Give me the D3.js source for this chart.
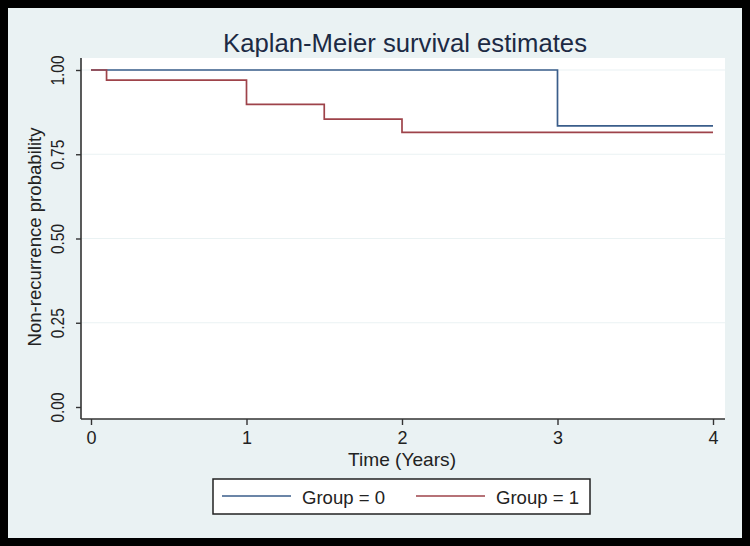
<!DOCTYPE html>
<html>
<head>
<meta charset="utf-8">
<script src="https://cdn.jsdelivr.net/npm/d3@7"></script>
<style>
  body { margin: 0; background: #000; }
  text { font-family: "Liberation Sans", Arial, sans-serif; }
</style>
</head>
<body>
<div id="chart"></div>
<script>
//Data
var group0Times = [0, 3, 4];
var group0Surv = [1, 0.834, 0.834];
var group1Times = [0, 0.1, 1, 1.5, 2, 4];
var group1Surv = [1, 0.970, 0.898, 0.854, 0.815, 0.815];
var xTicks = [0, 1, 2, 3, 4];
var yTicks = [0, 0.25, 0.5, 0.75, 1];
var legendLabels = ["Group = 0", "Group = 1"];
var colors = ["#3a5d8a", "#9e434a"];

var svgWidth = 750;
var svgHeight = 546;

var svg = d3.select("#chart")
  .append("svg")
  .attr("width", svgWidth)
  .attr("height", svgHeight);

//Black frame and light graph region
svg.append("rect")
  .attr("width", svgWidth)
  .attr("height", svgHeight)
  .attr("fill", "#000");

svg.append("rect")
  .attr("x", 8)
  .attr("y", 8)
  .attr("width", 734)
  .attr("height", 530)
  .attr("fill", "#eaf2f3");

//Plot region
var plot = { left: 81, right: 725, top: 58, bottom: 419 };

svg.append("rect")
  .attr("x", plot.left)
  .attr("y", plot.top)
  .attr("width", plot.right - plot.left)
  .attr("height", plot.bottom - plot.top)
  .attr("fill", "#fff");

var xScale = d3.scaleLinear().domain([0, 4]).range([91, 713]);
var yScale = d3.scaleLinear().domain([0, 1]).range([407, 70]);

//Grid lines
svg.append("g")
  .selectAll("line")
  .data(yTicks.filter(d => d > 0))
  .enter()
  .append("line")
  .attr("x1", plot.left)
  .attr("x2", plot.right)
  .attr("y1", d => yScale(d))
  .attr("y2", d => yScale(d))
  .attr("stroke", "#eaf2f3")
  .attr("stroke-width", 1.2);

//Axes
var leftAxis = d3.axisLeft(yScale)
  .tickValues(yTicks)
  .tickFormat(d3.format(".2f"))
  .tickSize(5)
  .tickSizeOuter(0);

var yAxis = svg.append("g")
  .attr("transform", `translate(${plot.left}, 0)`)
  .call(leftAxis);

yAxis.select(".domain").remove();
yAxis.append("line")
  .attr("x1", 0).attr("x2", 0)
  .attr("y1", plot.top).attr("y2", plot.bottom)
  .attr("stroke", "#333").attr("stroke-width", 1.6);

yAxis.selectAll(".tick line").attr("stroke", "#333").attr("stroke-width", 1.4);
yAxis.selectAll(".tick text")
  .attr("fill", "#222")
  .attr("font-size", "18px")
  .attr("text-anchor", "middle")
  .attr("x", 0)
  .attr("dy", 0)
  .attr("y", 0)
  .attr("textLength", 30)
  .attr("lengthAdjust", "spacingAndGlyphs")
  .attr("transform", "translate(-17, 0) rotate(-90)");

var bottomAxis = d3.axisBottom(xScale)
  .tickValues(xTicks)
  .tickFormat(d3.format("d"))
  .tickSize(6)
  .tickSizeOuter(0);

var xAxis = svg.append("g")
  .attr("transform", `translate(0, ${plot.bottom})`)
  .call(bottomAxis);

xAxis.select(".domain").remove();
xAxis.append("line")
  .attr("x1", plot.left).attr("x2", plot.right)
  .attr("y1", 0).attr("y2", 0)
  .attr("stroke", "#333").attr("stroke-width", 1.6);

xAxis.selectAll(".tick line").attr("stroke", "#333").attr("stroke-width", 1.4);
xAxis.selectAll(".tick text")
  .attr("fill", "#222")
  .attr("font-size", "18px")
  .attr("y", 12);

//Survival curves
var line = d3.line()
  .x(d => xScale(d[0]))
  .y(d => yScale(d[1]))
  .curve(d3.curveStepAfter);

var series = [
  d3.zip(group0Times, group0Surv),
  d3.zip(group1Times, group1Surv)
];

svg.append("g")
  .selectAll("path")
  .data(series)
  .enter()
  .append("path")
  .attr("d", line)
  .attr("fill", "none")
  .attr("stroke", (d, i) => colors[i])
  .attr("stroke-width", 1.7);

//Titles
svg.append("text")
  .attr("x", 405)
  .attr("y", 52)
  .attr("text-anchor", "middle")
  .attr("font-size", "25px")
  .attr("fill", "#1c2a44")
  .attr("textLength", 364)
  .attr("lengthAdjust", "spacingAndGlyphs")
  .text("Kaplan-Meier survival estimates");

svg.append("text")
  .attr("transform", "translate(41, 237) rotate(-90)")
  .attr("text-anchor", "middle")
  .attr("font-size", "18px")
  .attr("fill", "#222")
  .attr("textLength", 219)
  .attr("lengthAdjust", "spacingAndGlyphs")
  .text("Non-recurrence probability");

svg.append("text")
  .attr("x", 402)
  .attr("y", 466)
  .attr("text-anchor", "middle")
  .attr("font-size", "19px")
  .attr("fill", "#222")
  .attr("textLength", 108)
  .attr("lengthAdjust", "spacingAndGlyphs")
  .text("Time (Years)");

//Legend
var legend = svg.append("g");

legend.append("rect")
  .attr("x", 213)
  .attr("y", 479)
  .attr("width", 377)
  .attr("height", 35)
  .attr("fill", "#fff")
  .attr("stroke", "#222")
  .attr("stroke-width", 1.5);

var legendItems = legend.selectAll(".item")
  .data(legendLabels)
  .enter()
  .append("g")
  .attr("class", "item")
  .attr("transform", (d, i) => `translate(${222 + i * 194}, 0)`);

legendItems.append("line")
  .attr("x1", 0)
  .attr("x2", 69)
  .attr("y1", 496)
  .attr("y2", 496)
  .attr("stroke", (d, i) => colors[i])
  .attr("stroke-width", 1.5);

legendItems.append("text")
  .attr("x", 80)
  .attr("y", 504)
  .attr("font-size", "19px")
  .attr("fill", "#222")
  .attr("textLength", 83)
  .attr("lengthAdjust", "spacingAndGlyphs")
  .text(d => d);
</script>
</body>
</html>
